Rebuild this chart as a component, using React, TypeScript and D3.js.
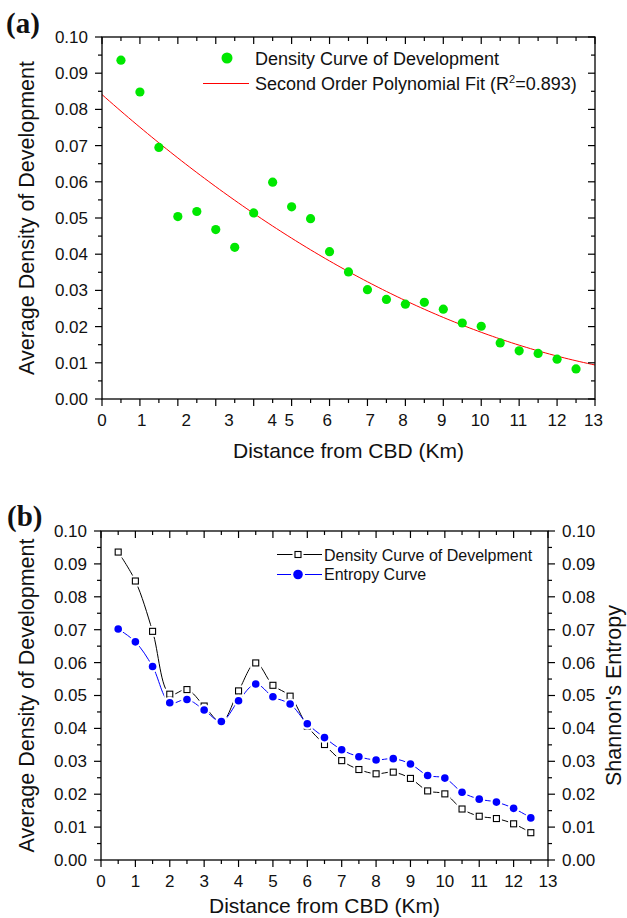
import React from "react";
import * as d3 from "d3";

// ---------- data ----------
const distances = [0.5, 1, 1.5, 2, 2.5, 3, 3.5, 4, 4.5, 5, 5.5, 6, 6.5, 7, 7.5, 8, 8.5, 9, 9.5, 10, 10.5, 11, 11.5, 12, 12.5];
const density = [0.0936, 0.0848, 0.0695, 0.0504, 0.0518, 0.0468, 0.0419, 0.0514, 0.0599, 0.0531, 0.0498, 0.0407, 0.0351, 0.0302, 0.0275, 0.0262, 0.0267, 0.0248, 0.0210, 0.0201, 0.0155, 0.0133, 0.0126, 0.0110, 0.0083];
const entropy = [0.0702, 0.0663, 0.0588, 0.0478, 0.0488, 0.0456, 0.0421, 0.0484, 0.0535, 0.0496, 0.0474, 0.0414, 0.0372, 0.0335, 0.0314, 0.0304, 0.0308, 0.0292, 0.0257, 0.0249, 0.0206, 0.0185, 0.0176, 0.0157, 0.0128];
// second order polynomial fit coefficients (c0 + c1 x + c2 x^2)
const fitCoef = [0.0841, -0.009303, 0.0002736];
const xMajorTicks = d3.range(0, 14, 1);
const xMinorTicks = d3.range(0.5, 13, 1);
const yMajorTicks = d3.range(0, 0.1001, 0.01);
const yMinorTicks = d3.range(0.005, 0.1, 0.01);
// panel (a) tick labels sit at slightly irregular positions in the original
const aXLabels = ["0", "1", "2", "3", "4", "5", "6", "7", "8", "9", "10", "11", "12", "13"];
const aXLabelPos = [0, 1.05, 2.22, 3.35, 4.49, 4.94, 5.94, 7.07, 7.94, 8.96, 9.97, 10.98, 12.0, 12.96];

const FONT = "'Liberation Sans', Arial, Helvetica, sans-serif";
const TXT = "#111";
const GREEN = "#00e800";
const BLUE = "#0000ff";
const TICKFS = 17;

type Box = { l: number; r: number; t: number; b: number };

function Frame({ x, y, box, rightOut, rightLabels, xLabels, xLabelPos }: any) {
  const MJ = 7, MN = 4;
  const els: any[] = [];
  xMajorTicks.forEach((v, i) => {
    els.push(<line key={"bM" + i} x1={x(v)} x2={x(v)} y1={box.b} y2={box.b + MJ} stroke="#000" strokeWidth={1.2} />);
    els.push(<line key={"tM" + i} x1={x(v)} x2={x(v)} y1={box.t} y2={box.t + MJ} stroke="#000" strokeWidth={1.2} />);
  });
  xMinorTicks.forEach((v, i) => {
    els.push(<line key={"bm" + i} x1={x(v)} x2={x(v)} y1={box.b} y2={box.b + MN} stroke="#000" strokeWidth={1.2} />);
    els.push(<line key={"tm" + i} x1={x(v)} x2={x(v)} y1={box.t} y2={box.t + MN} stroke="#000" strokeWidth={1.2} />);
  });
  yMajorTicks.forEach((v, i) => {
    els.push(<line key={"lM" + i} x1={box.l - MJ} x2={box.l} y1={y(v)} y2={y(v)} stroke="#000" strokeWidth={1.2} />);
    els.push(<line key={"rM" + i} x1={box.r} x2={box.r + (rightOut ? MJ : -MJ)} y1={y(v)} y2={y(v)} stroke="#000" strokeWidth={1.2} />);
    els.push(<text key={"lL" + i} x={box.l - 14} y={y(v)} dy="0.35em" textAnchor="end" fontSize={TICKFS} fontFamily={FONT} fill={TXT}>{v.toFixed(2)}</text>);
    if (rightLabels)
      els.push(<text key={"rL" + i} x={box.r + 14} y={y(v)} dy="0.35em" textAnchor="start" fontSize={TICKFS} fontFamily={FONT} fill={TXT}>{v.toFixed(2)}</text>);
  });
  yMinorTicks.forEach((v, i) => {
    els.push(<line key={"lm" + i} x1={box.l - MN} x2={box.l} y1={y(v)} y2={y(v)} stroke="#000" strokeWidth={1.2} />);
    els.push(<line key={"rm" + i} x1={box.r} x2={box.r + (rightOut ? MN : -MN)} y1={y(v)} y2={y(v)} stroke="#000" strokeWidth={1.2} />);
  });
  xLabels.forEach((s: string, i: number) => {
    els.push(<text key={"xL" + i} x={x(xLabelPos[i])} y={box.b + 27} textAnchor="middle" fontSize={TICKFS} fontFamily={FONT} fill={TXT}>{s}</text>);
  });
  els.push(<rect key="frame" x={box.l} y={box.t} width={box.r - box.l} height={box.b - box.t} fill="none" stroke="#000" strokeWidth={1.3} />);
  return <g>{els}</g>;
}

function PanelA() {
  const box: Box = { l: 102, r: 595, t: 37, b: 399 };
  const x = d3.scaleLinear().domain([0, 13]).range([box.l, box.r]);
  const y = d3.scaleLinear().domain([0, 0.1]).range([box.b, box.t]);
  const fitX = d3.range(0, 13.0001, 0.1);
  const fitLine = d3.line<number>().x((v) => x(v)).y((v) => y(fitCoef[0] + fitCoef[1] * v + fitCoef[2] * v * v));
  return (
    <g>
      <text x={6} y={33} fontFamily="'Liberation Serif', 'Times New Roman', serif" fontWeight="bold" fontSize={29} fill={TXT}>(a)</text>
      <path d={fitLine(fitX) || ""} fill="none" stroke="#ff0000" strokeWidth={1} />
      {distances.map((d, i) => (
        <circle key={i} cx={x(d)} cy={y(density[i])} r={4.6} fill={GREEN} />
      ))}
      <Frame x={x} y={y} box={box} rightOut={false} rightLabels={false} xLabels={aXLabels} xLabelPos={aXLabelPos} />
      <circle cx={227} cy={58} r={5.5} fill={GREEN} />
      <text x={255} y={64.5} fontSize={18} fontFamily={FONT} fill={TXT}>Density Curve of Development</text>
      <line x1={203} x2={249} y1={83.5} y2={83.5} stroke="#ff0000" strokeWidth={1} />
      <text x={255} y={90} fontSize={18} fontFamily={FONT} fill={TXT}>
        Second Order Polynomial Fit (R<tspan dy={-7} fontSize={11}>2</tspan><tspan dy={7}>=0.893)</tspan>
      </text>
      <text x={(box.l + box.r) / 2} y={458} textAnchor="middle" fontSize={21} fontFamily={FONT} fill={TXT}>Distance from CBD (Km)</text>
      <text transform={`translate(34,${(box.t + box.b) / 2}) rotate(-90)`} textAnchor="middle" fontSize={21.5} fontFamily={FONT} fill={TXT}>Average Density of Development</text>
    </g>
  );
}

function PanelB() {
  const box: Box = { l: 101, r: 548, t: 531, b: 860 };
  const x = d3.scaleLinear().domain([0, 13]).range([box.l, box.r]);
  const y = d3.scaleLinear().domain([0, 0.1]).range([box.b, box.t]);
  const lineD = d3.line<number>().x((_, i) => x(distances[i])).y((v) => y(v)).curve(d3.curveCatmullRom.alpha(0.5));
  const sq = 6;
  const sqMark = (cx: number, cy: number, k: string) => (
    <g key={k}>
      <rect x={cx - sq / 2} y={cy - sq / 2} width={sq} height={sq} fill="#fff" stroke="#fff" strokeWidth={5} />
      <rect x={cx - sq / 2} y={cy - sq / 2} width={sq} height={sq} fill="#fff" stroke="#000" strokeWidth={1.1} />
    </g>
  );
  const ciMark = (cx: number, cy: number, k: string, r = 3.8) => (
    <g key={k}>
      <circle cx={cx} cy={cy} r={r + 2.2} fill="#fff" />
      <circle cx={cx} cy={cy} r={r} fill={BLUE} />
    </g>
  );
  const xLabelPos = xMajorTicks;
  const xLabels = xMajorTicks.map((v) => String(v));
  return (
    <g>
      <text x={7} y={526} fontFamily="'Liberation Serif', 'Times New Roman', serif" fontWeight="bold" fontSize={29} fill={TXT}>(b)</text>
      <path d={lineD(density) || ""} fill="none" stroke="#000" strokeWidth={1} />
      <path d={lineD(entropy) || ""} fill="none" stroke={BLUE} strokeWidth={1} />
      {distances.map((d, i) => sqMark(x(d), y(density[i]), "s" + i))}
      {distances.map((d, i) => ciMark(x(d), y(entropy[i]), "c" + i))}
      <Frame x={x} y={y} box={box} rightOut={true} rightLabels={true} xLabels={xLabels} xLabelPos={xLabelPos} />
      <line x1={277} x2={322} y1={554.5} y2={554.5} stroke="#000" strokeWidth={1} />
      {sqMark(298, 554.5, "ls")}
      <text x={324} y={560.5} fontSize={16} fontFamily={FONT} fill={TXT}>Density Curve of Develpment</text>
      <line x1={277} x2={322} y1={574.5} y2={574.5} stroke={BLUE} strokeWidth={1} />
      {ciMark(298, 574.5, "lc", 4.8)}
      <text x={324} y={580} fontSize={16} fontFamily={FONT} fill={TXT}>Entropy Curve</text>
      <text x={(box.l + box.r) / 2} y={913} textAnchor="middle" fontSize={21} fontFamily={FONT} fill={TXT}>Distance from CBD (Km)</text>
      <text transform={`translate(34,${(box.t + box.b) / 2}) rotate(-90)`} textAnchor="middle" fontSize={21.5} fontFamily={FONT} fill={TXT}>Average Density of Development</text>
      <text transform={`translate(621,${(box.t + box.b) / 2}) rotate(-90)`} textAnchor="middle" fontSize={21.5} fontFamily={FONT} fill={TXT}>Shannon's Entropy</text>
    </g>
  );
}

export default function App() {
  return (
    <svg width={627} height={918} style={{ position: "absolute", left: 0, top: 0, background: "#fff" }}>
      <rect x={0} y={0} width={627} height={918} fill="#fff" />
      <PanelA />
      <PanelB />
    </svg>
  );
}
